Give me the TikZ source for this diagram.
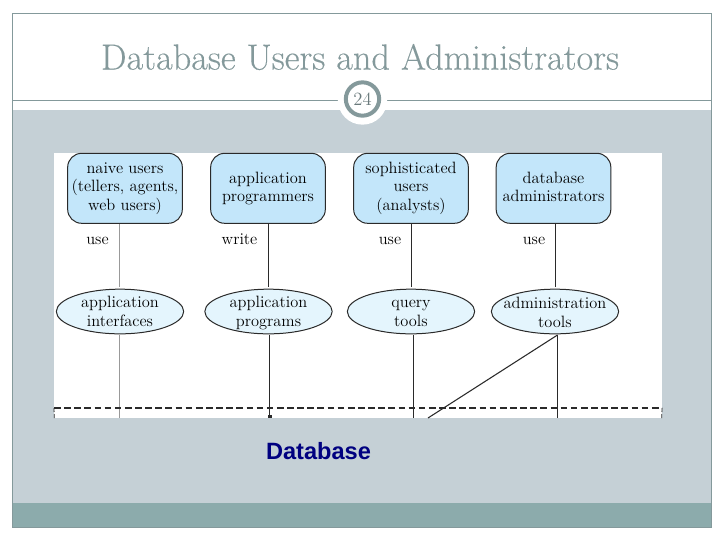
\documentclass[tikz,border=0pt]{standalone}
\usepackage{fontspec}
\usetikzlibrary{shapes.geometric}
\newfontfamily\arialfont{Liberation Sans}
\newfontfamily\titlefont[FakeBold=0.25]{Latin Modern Roman}
\newcommand{\lsp}{\vphantom{lp}}
\newcommand{\tsp}[1]{\rule{0pt}{#1pt}}
\definecolor{framec}{HTML}{84999B}
\definecolor{panelc}{HTML}{C5D0D6}
\definecolor{tealc}{HTML}{8CABAC}
\definecolor{boxc}{HTML}{C3E6FA}
\definecolor{ellc}{HTML}{E4F5FD}
\definecolor{inkc}{HTML}{2A2A2A}
\definecolor{navyc}{HTML}{000080}
\tikzset{
  x=0.75pt,y=-0.75pt,
  userbox/.style={draw=inkc,line width=0.75pt,fill=boxc,rounded corners=10.5pt,minimum width=86pt,minimum height=52.5pt,inner sep=0pt,align=center,font=\fontsize{12.3}{13.8}\selectfont,text=black},
  toolell/.style={ellipse,draw=inkc,line width=0.75pt,fill=ellc,minimum width=95.5pt,minimum height=33.5pt,inner sep=-12pt,align=center,font=\fontsize{12.3}{13.8}\selectfont,text=black},
  verb/.style={inner sep=0pt,font=\fontsize{12.3}{14}\selectfont,text=black},
  conn/.style={draw=inkc,line width=0.8pt},
  connlight/.style={draw=black!40,line width=0.8pt},
  dashline/.style={draw=inkc,line width=0.8pt,dash pattern=on 5pt off 2.6pt}
}
\begin{document}
\begin{tikzpicture}
\useasboundingbox (0,0) rectangle (720,540);
\fill[white] (0,0) rectangle (720,540);
% slide
\fill[panelc] (12,110) rectangle (711,503);
\fill[tealc] (12,503) rectangle (711,527);
\draw[framec,line width=0.75pt] (12,527) -- (12,13) -- (711,13) -- (711,527) -- cycle;
\draw[framec,line width=0.75pt] (12,100) -- (711,100);
\node[circle,fill=white,minimum size=37pt,inner sep=0pt] (badgebg) at (362.5,100) {};
\node[circle,draw=framec,line width=3pt,fill=white,minimum size=25pt,inner sep=0pt,text=framec!80!black,font=\fontsize{14}{16}\selectfont] (badge) at (362.5,99) {24};
\node[text=framec,inner sep=0pt,font=\titlefont\fontsize{27.2}{32}\selectfont] (title) at (360,57) {Database Users and Administrators};
% white figure
\fill[white] (54,153) rectangle (662,418);
% users
\node[userbox] (u1) at (125,188.3) {\lsp naive users\\\lsp (tellers, agents,\\\lsp web users)};
\node[userbox] (u2) at (268,188.3) {\lsp application\\\lsp programmers};
\node[userbox] (u3) at (411,188.3) {\lsp sophisticated\\\lsp users\\\lsp (analysts)};
\node[userbox] (u4) at (553.5,188.3) {\lsp database\\\lsp administrators};
% tools
\node[toolell] (t1) at (120,311.5) {\tsp{10.7}application\\\lsp interfaces};
\node[toolell] (t2) at (268.5,311.5) {\tsp{10.7}application\\\lsp programs};
\node[toolell] (t3) at (411,311.5) {\tsp{10.7}query\\\lsp tools};
\node[toolell] (t4) at (555,311.5) {\tsp{12.2}administration\\\lsp tools};
% verbs
\node[verb] (v1) at (97.5,240.5) {\lsp use};
\node[verb] (v2) at (239.5,240.5) {\lsp write};
\node[verb] (v3) at (390,240.5) {\lsp use};
\node[verb] (v4) at (534,240.5) {\lsp use};
% free ends
\coordinate (a1) at (119.5,287);
\coordinate (a2) at (268.5,287);
\coordinate (a3) at (411.5,287);
\coordinate (a4) at (555.5,287);
\coordinate (b1) at (119.5,335);
\coordinate (c1) at (119.5,418);
\coordinate (b2) at (269.5,335);
\coordinate (c2) at (269.5,418);
\coordinate (b3) at (413.5,335);
\coordinate (c3) at (413.5,418);
\coordinate (b4) at (557.5,335);
\coordinate (c4) at (557.5,418);
\coordinate (d4) at (428,418);
\draw[connlight] (u1.south -| a1) -- (a1);
\draw[conn] (u2.south -| a2) -- (a2);
\draw[conn] (u3.south -| a3) -- (a3);
\draw[conn] (u4.south -| a4) -- (a4);
\draw[connlight] (b1) -- (c1);
\draw[conn] (b2) -- (c2);
\draw[conn,line width=0.95pt] (b3) -- (c3);
\draw[conn,line width=0.95pt] (b4) -- (c4);
\draw[conn] (b4) -- (d4);
\fill[inkc] (267.5,414.5) rectangle (271.5,418);
% dashed boundary
\coordinate (dl) at (54,408);
\coordinate (dr) at (662,408);
\draw[dashline] (dl) -- (dr);
\draw[conn,line width=0.6pt,dash pattern=on 3pt off 1.5pt] (dl) -- (54.3,418);
\draw[conn,line width=0.6pt,dash pattern=on 3pt off 1.5pt] (dr) -- (661.7,418);
\node[text=navyc,inner sep=0pt,font=\arialfont\bfseries\fontsize{17.7}{20}\selectfont] (db) at (318.5,451) {Database};
\end{tikzpicture}
\end{document}
